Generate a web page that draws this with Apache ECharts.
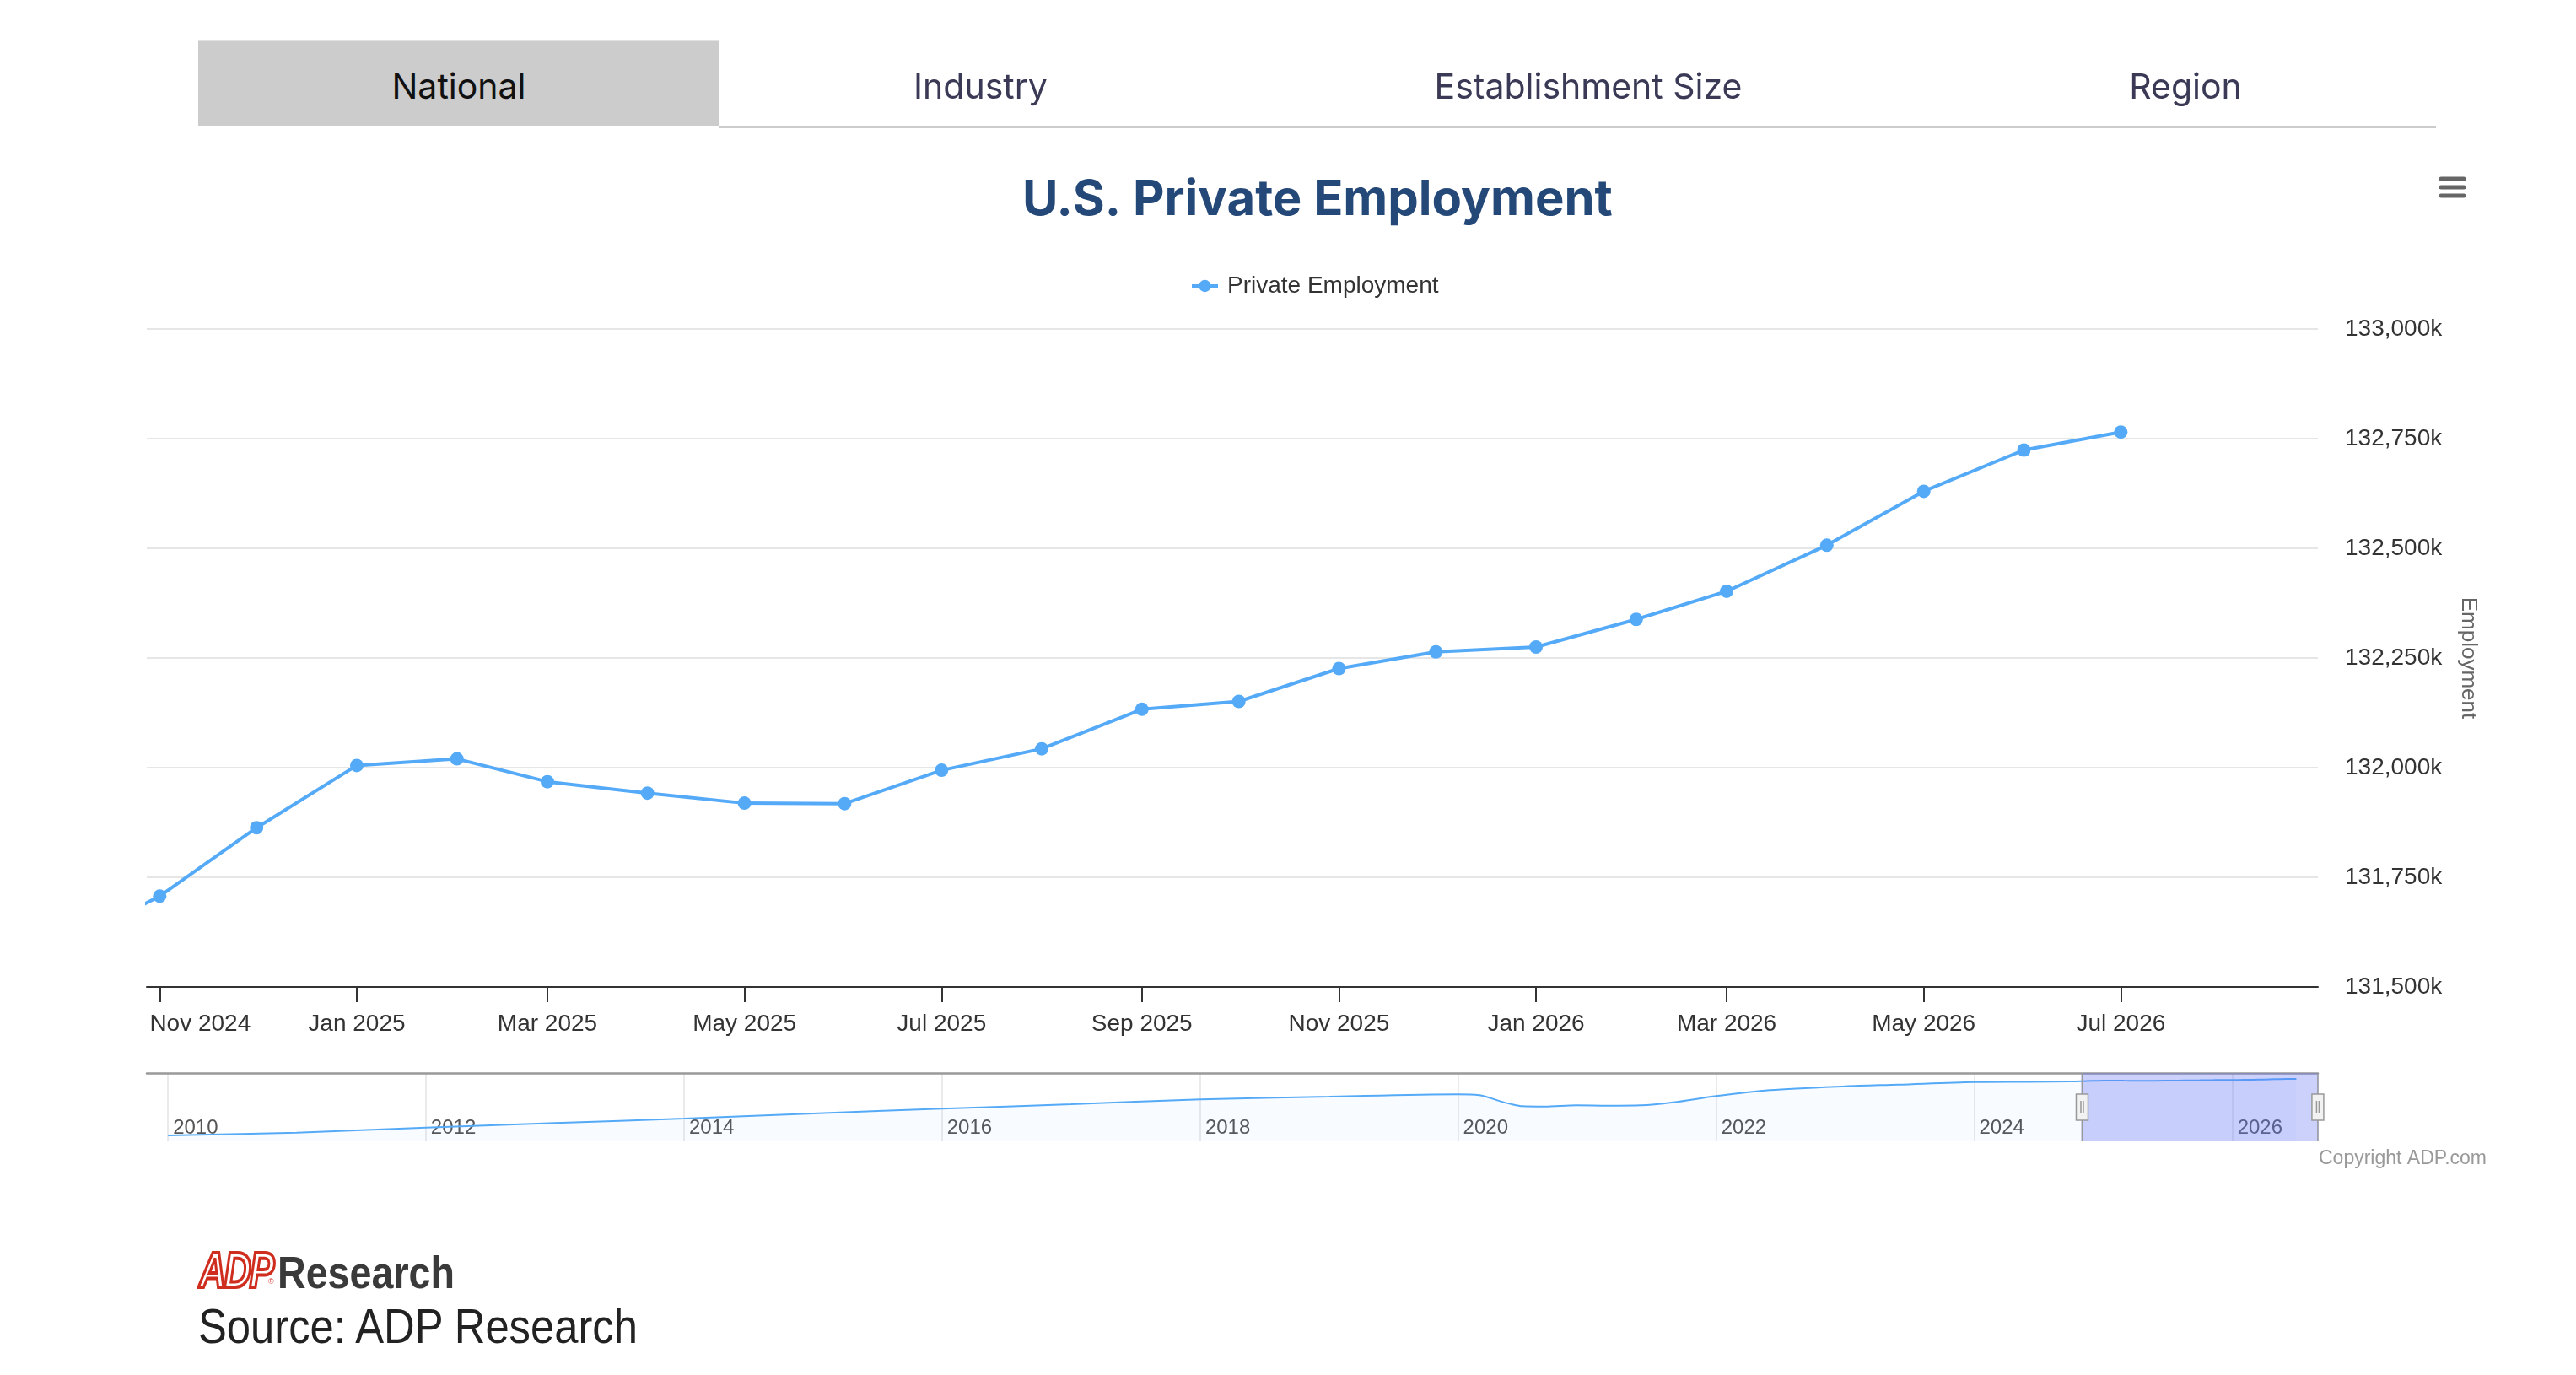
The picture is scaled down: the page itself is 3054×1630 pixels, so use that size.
<!DOCTYPE html>
<html>
<head>
<meta charset="utf-8">
<script src="https://cdn.jsdelivr.net/npm/echarts@6/dist/echarts.min.js"></script>
<style>
html,body{margin:0;padding:0;background:#fff;}
#page{position:relative;width:3054px;height:1630px;overflow:hidden;background:#fff;}
#chart{position:absolute;left:0;top:0;width:3054px;height:1630px;z-index:1;}
.tab{position:absolute;top:49px;height:100px;line-height:106px;text-align:center;font-family:Inter,'Noto Sans',sans-serif;font-size:41px;color:#3a3a56;z-index:2;}
.tab.active{background:#cccccc;color:#111;border-top:2px solid #e2e2e2;top:47px;}
#tabline{position:absolute;left:853px;top:149px;width:2035px;height:3px;background:#cccccc;z-index:2;}
.foot{position:absolute;white-space:nowrap;z-index:2;line-height:1;transform-origin:0 0;}
</style>
</head>
<body>
<div id="page">
  <div class="tab active" style="left:235px;width:618px;">National</div>
  <div class="tab" style="left:853px;width:619px;">Industry</div>
  <div class="tab" style="left:1472px;width:822px;">Establishment Size</div>
  <div class="tab" style="left:2294px;width:594px;">Region</div>
  <div id="tabline"></div>
  <div id="chart"></div>
  <div class="foot" style="left:236px;top:1476px;font-family:'Liberation Sans',Arial,sans-serif;font-weight:700;font-style:italic;font-size:60px;color:#fff;-webkit-text-stroke:4px #cf2e1f;transform:scaleX(0.74);letter-spacing:-3px;">ADP</div>
  <div class="foot" style="left:318px;top:1515px;font-family:'Liberation Sans',Arial,sans-serif;font-size:9px;color:#cf2e1f;">&reg;</div>
  <div class="foot" style="left:329px;top:1482px;font-family:'Liberation Sans',Arial,sans-serif;font-weight:700;font-size:53px;color:#3a3a3a;transform:scaleX(0.88);">Research</div>
  <div class="foot" style="left:235px;top:1543px;font-family:'Liberation Sans',Arial,sans-serif;font-size:58px;color:#222;transform:scaleX(0.875);">Source: ADP Research</div>
</div>
<script>
// ---- data (values in thousands) ----
const months = ['2024-10','2024-11','2024-12','2025-01','2025-02','2025-03','2025-04','2025-05','2025-06','2025-07','2025-08','2025-09','2025-10','2025-11','2025-12','2026-01','2026-02','2026-03','2026-04','2026-05','2026-06','2026-07'];
const employment = [131590,131707,131863,132005,132020,131968,131942,131919,131918,131994,132043,132133,132151,132226,132264,132275,132338,132402,132507,132630,132724,132765];
// longer history, read from the navigator strip
const historyMonths = ['2010-01','2011-01','2012-01','2013-01','2014-01','2015-01','2016-01','2017-01','2018-01','2019-01','2020-01','2020-03','2020-04','2020-05','2020-06','2020-07','2020-09','2020-12','2021-03','2021-06','2021-09','2022-01','2022-06','2023-01','2023-06','2024-01','2024-06'];
const historyEmployment = [107300,108550,110830,112890,114900,117180,119350,121360,123530,124780,125810,125430,124160,122640,121360,120490,120330,120870,120710,120870,122230,125050,127710,129450,130210,131350,131480];
const yTicks = [131500,131750,132000,132250,132500,132750,133000];
const navigatorYears = ['2010','2012','2014','2016','2018','2020','2022','2024','2026'];
const monthNames = ['Jan','Feb','Mar','Apr','May','Jun','Jul','Aug','Sep','Oct','Nov','Dec'];
const seriesName = 'Private Employment';

// ---- helpers ----
function ts(s) { const p = s.split('-'); return new Date(+p[0], +p[1] - 1, p[2] ? +p[2] : 1).getTime(); }
const fullStart = ts('2009-11-02'), fullEnd = ts('2026-08-31');
const viewStart = ts('2024-10-28'), viewEnd = ts('2026-08-31');
const lineColor = '#55aaf8';
const font = "'Liberation Sans', Arial, Helvetica, sans-serif";

const mainData = months.map((m, i) => [ts(m), employment[i]]);
const navData = historyMonths.map((m, i) => [ts(m), historyEmployment[i]]).concat(mainData);
const navTickValues = navigatorYears.map(y => ts(y + '-01-01'));

const chart = echarts.init(document.getElementById('chart'), null, {renderer: 'canvas'});
chart.setOption({
  animation: false,
  backgroundColor: 'transparent',
  title: {
    text: 'U.S. Private Employment',
    left: 1207, top: 204,
    textStyle: {fontFamily: "Inter, 'Noto Sans', sans-serif", fontWeight: 700, fontSize: 58, color: '#244877'}
  },
  legend: {
    data: [seriesName],
    left: 1406, top: 320,
    itemWidth: 31, itemHeight: 18,
    lineStyle: {width: 4},
    textStyle: {fontFamily: font, fontSize: 28, color: '#333', padding: [0, 0, 0, 6]}
  },
  grid: [
    {left: 174, top: 390, width: 2574, height: 780, outerBoundsMode: 'none', containLabel: false},
    {left: 174, top: 1272, width: 2574, height: 81, outerBoundsMode: 'none', containLabel: false}
  ],
  xAxis: [
    {
      type: 'time', gridIndex: 0, min: fullStart, max: fullEnd, splitNumber: 9,
      axisLine: {show: true, lineStyle: {color: '#333', width: 2}},
      axisTick: {show: true, length: 18, lineStyle: {color: '#333', width: 2}},
      splitLine: {show: false},
      axisLabel: {
        margin: 30, fontFamily: font, fontSize: 28, color: '#333', hideOverlap: false,
        formatter: function (value) {
          const d = new Date(value);
          const s = monthNames[d.getMonth()] + ' ' + d.getFullYear();
          return (value - viewStart < 20 * 864e5) ? '{first|' + s + '}' : '{n|' + s + '}';
        },
        rich: {
          first: {fontFamily: font, fontSize: 28, color: '#333', padding: [0, 0, 0, 96]},
          n: {fontFamily: font, fontSize: 28, color: '#333'}
        }
      }
    },
    {
      type: 'value', gridIndex: 1, min: fullStart, max: fullEnd,
      axisLine: {show: false},
      axisTick: {show: false, customValues: navTickValues},
      splitLine: {show: true, lineStyle: {color: '#e3e3e3', width: 1.5}},
      axisLabel: {
        inside: true, align: 'left', verticalAlign: 'bottom', margin: 4,
        customValues: navTickValues,
        fontFamily: font, fontSize: 24, color: '#555', padding: [0, 0, 0, 6],
        formatter: function (value) { return String(new Date(value).getFullYear()); }
      }
    },
    {
      type: 'value', gridIndex: 1, position: 'top', min: fullStart, max: fullEnd,
      axisLine: {show: true, lineStyle: {color: '#999', width: 2.5}},
      axisTick: {show: false}, axisLabel: {show: false}, splitLine: {show: false}
    }
  ],
  yAxis: [
    {
      type: 'value', gridIndex: 0, position: 'right',
      min: yTicks[0], max: yTicks[yTicks.length - 1], interval: 250,
      name: 'Employment', nameLocation: 'middle', nameGap: 165, nameRotate: -90,
      nameTextStyle: {fontFamily: font, fontSize: 26, color: '#666'},
      axisLine: {show: false}, axisTick: {show: false},
      splitLine: {show: true, lineStyle: {color: '#e6e6e6', width: 2}},
      axisLabel: {
        margin: 32, fontFamily: font, fontSize: 28, color: '#333',
        formatter: v => v.toLocaleString('en-US') + 'k'
      }
    },
    {
      type: 'value', gridIndex: 1, min: 104640, max: 135425, show: false,
      splitLine: {show: false}
    }
  ],
  dataZoom: [{
    type: 'slider', xAxisIndex: 0, filterMode: 'none',
    left: 174, top: 1272, width: 2574, height: 81,
    startValue: viewStart, endValue: viewEnd,
    showDataShadow: false, showDetail: false, brushSelect: false, moveHandleSize: 0,
    backgroundColor: 'transparent', borderColor: 'transparent',
    fillerColor: 'rgba(100,115,245,0.33)',
    handleIcon: 'path://M7,0L7,25M7,56L7,81M0,25L14,25L14,56L0,56ZM5.5,33L5.5,48M8.5,33L8.5,48',
    handleSize: '100%',
    handleStyle: {color: '#f2f2f2', borderColor: '#999', borderWidth: 1.5},
    dataBackground: {lineStyle: {opacity: 0}, areaStyle: {opacity: 0}},
    selectedDataBackground: {lineStyle: {opacity: 0}, areaStyle: {opacity: 0}},
    emphasis: {handleStyle: {color: '#f2f2f2', borderColor: '#999'}}
  }],
  series: [
    {
      name: seriesName, type: 'line', xAxisIndex: 0, yAxisIndex: 0,
      data: mainData,
      color: lineColor,
      lineStyle: {color: lineColor, width: 4},
      itemStyle: {color: lineColor},
      symbol: 'circle', symbolSize: 16, showSymbol: true, showAllSymbol: true,
      clip: true, z: 3
    },
    {
      name: 'navigator', type: 'line', xAxisIndex: 1, yAxisIndex: 1,
      data: navData, smooth: 0.3, symbol: 'none',
      lineStyle: {color: lineColor, width: 2},
      areaStyle: {color: 'rgba(85,170,248,0.06)'},
      silent: true, z: 1
    }
  ],
  graphic: [
    {type: 'line', shape: {x1: 2894, y1: 212, x2: 2921, y2: 212}, style: {stroke: '#666', lineWidth: 5, lineCap: 'round'}},
    {type: 'line', shape: {x1: 2894, y1: 222, x2: 2921, y2: 222}, style: {stroke: '#666', lineWidth: 5, lineCap: 'round'}},
    {type: 'line', shape: {x1: 2894, y1: 232, x2: 2921, y2: 232}, style: {stroke: '#666', lineWidth: 5, lineCap: 'round'}},
    {type: 'text', x: 2948, y: 1374, style: {text: 'Copyright ADP.com', fill: '#999', fontSize: 23, fontFamily: font, align: 'right', verticalAlign: 'middle'}}
  ]
});
</script>
</body>
</html>
